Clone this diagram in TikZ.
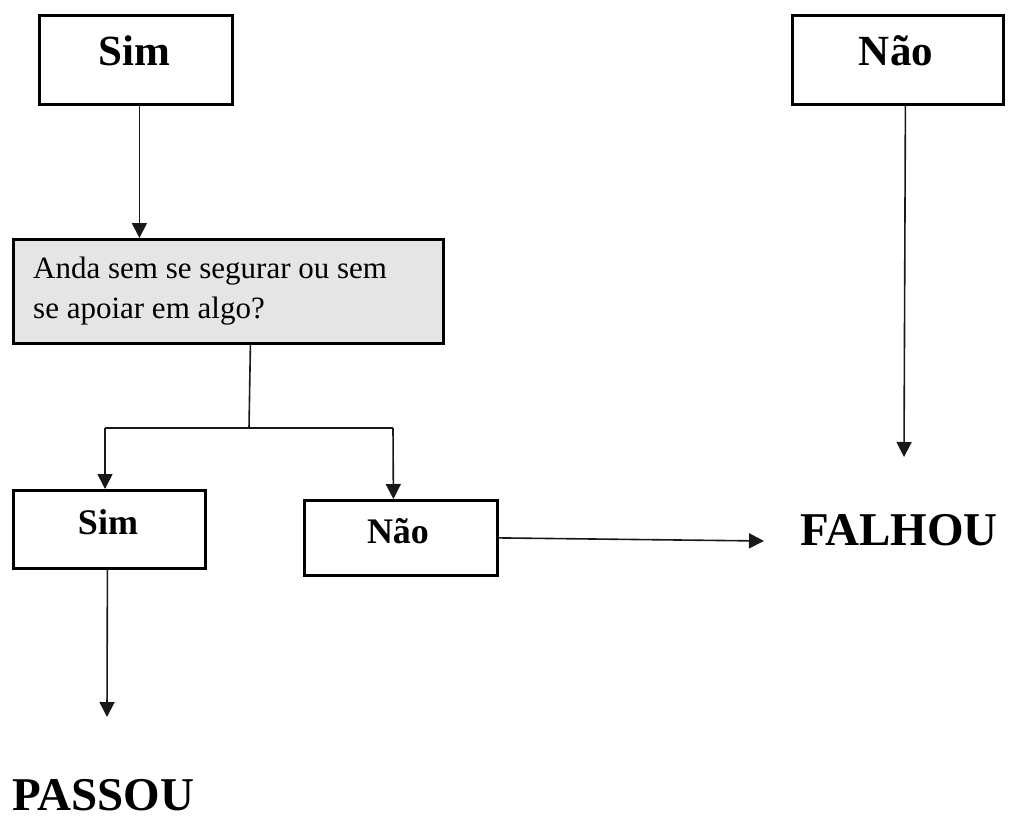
\documentclass[tikz,border=0pt]{standalone}
\usepackage{fontspec}
\setmainfont{Liberation Serif}
\usetikzlibrary{arrows.meta,calc}
\tikzset{
  box/.style={draw=black, line width=2.8pt, fill=white, inner sep=0pt, anchor=north west},
  qbox/.style={box, fill=black!10},
  conn/.style={line width=1.6pt, draw=black!90},
  arr/.style={conn, -{Triangle[length=15pt,width=15pt]}},
  big/.style={font=\bfseries\fontsize{43}{50}\selectfont, anchor=base, inner sep=0pt},
  mid/.style={font=\bfseries\fontsize{36}{42}\selectfont, anchor=base, inner sep=0pt},
  res/.style={font=\bfseries\fontsize{47}{54}\selectfont, anchor=base west, inner sep=0pt},
  qtext/.style={font=\fontsize{31}{40}\selectfont, anchor=base west, inner sep=0pt, align=left}
}
\begin{document}
\begin{tikzpicture}[x=1pt,y=-1pt]
\useasboundingbox (0,0) rectangle (1016,819);
% boxes
\node[box, minimum width=193pt, minimum height=89pt] (simtop) at (38,14) {};
\node[box, minimum width=211pt, minimum height=89pt] (naotop) at (791,14) {};
\node[qbox, minimum width=430pt, minimum height=104pt] (q) at (12,238) {};
\node[box, minimum width=192pt, minimum height=78pt] (simb) at (12,489) {};
\node[box, minimum width=193pt, minimum height=75pt] (naob) at (303,499) {};
% texts
\node[big] (tsimtop) at (134,65) {Sim};
\node[big] (tnaotop) at (896,65) {Não};
\node[qtext] (tq1) at (33,278) {Anda sem se segurar ou sem};
\node[qtext] (tq2) at (33,318) {se apoiar em algo?};
\node[mid] (tsimb) at (108,534) {Sim};
\node[mid] (tnaob) at (398,543) {Não};
\node[res] (falhou) at (800,545) {FALHOU};
\node[res] (passou) at (12,810) {PASSOU};
% junction coordinates
\coordinate (j) at (249,428);
\coordinate (jl) at (105,428);
\coordinate (jr) at (393,428);
\coordinate (fa) at (764,541);
\coordinate (pa) at (107,717);
\coordinate (na) at (904,457);
% connectors
\draw[arr] ([xshift=3.5pt]simtop.south) -- ([xshift=3.5pt]simtop.south |- q.north);
\draw[conn] ([xshift=22pt]q.south) -- (j);
\draw[conn] (jl) -- (jr);
\draw[arr] (jl) -- (jl |- simb.north);
\draw[arr] (jr) -- ([xshift=-7.5pt]naob.north);
\draw[arr] (naob.east) -- (fa);
\draw[arr] ([xshift=7.5pt]naotop.south) -- (na);
\draw[arr] ([xshift=-2pt]simb.south) -- (pa);
\end{tikzpicture}
\end{document}
